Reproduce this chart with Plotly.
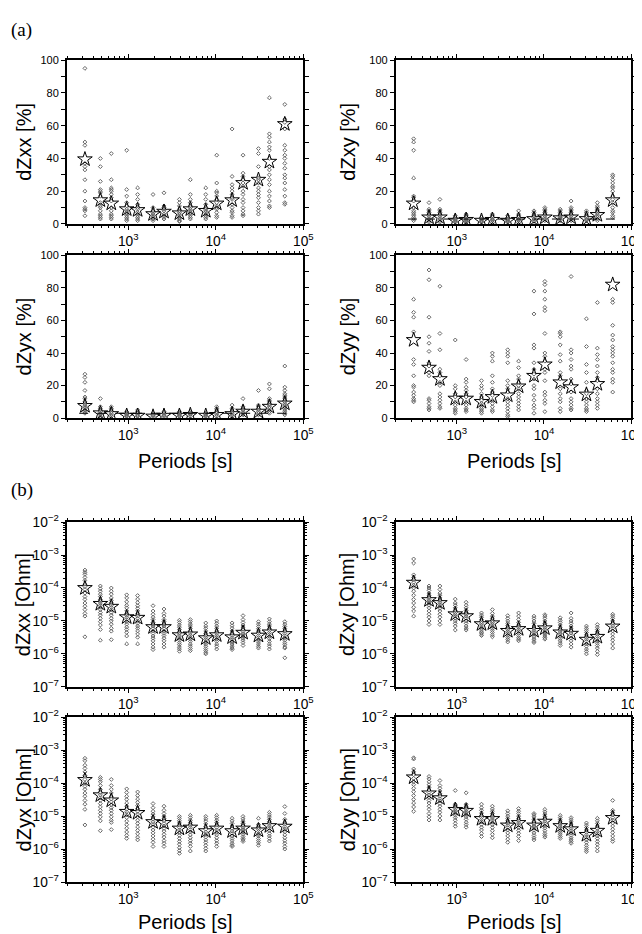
"""
Impedance error estimates vs period for all sites.

(a) relative errors [%] of the four impedance components
(b) absolute errors [Ohm] of the four impedance components

Small diamonds: individual sites; stars: average per period.
Dashed line in dZxy / dZyx (a): 3 % error floor.
"""

import numpy as np
import plotly.graph_objects as go
from plotly.subplots import make_subplots

# ── Data ─────────────────────────────────────────────────────────────────────
PERIODS = [320, 480, 640, 960, 1280, 1920, 2560, 3840, 5120, 7680,
           10240, 15360, 20480, 30720, 40960, 61440]

ERROR_FLOOR = 3.0
FLOOR_X = [275, 80000]

# (a) relative errors, %
zxx_pct = [
    [95, 50, 48, 37, 35, 33, 27, 20, 14, 10, 9, 8, 5],
    [40, 35, 26, 21, 20, 19, 17, 13, 11, 10, 8, 6, 5, 4, 3],
    [43, 27, 22, 21, 20, 18, 16, 14, 10, 8, 6, 5, 4, 3],
    [45, 21, 17, 13, 11, 9, 8, 7, 6, 5, 4, 3, 2],
    [22, 18, 15, 12, 10, 9, 7, 6, 5, 4, 3, 2],
    [18, 10, 8, 7, 6, 5, 4, 3, 2],
    [19, 11, 10, 9, 8, 6, 5, 4, 3],
    [15, 13, 11, 9, 8, 7, 6, 5, 4, 3, 2, 1.5],
    [27, 18, 15, 13, 11, 10, 9, 8, 7, 6, 5, 4, 3],
    [22, 18, 15, 12, 10, 9, 8, 7, 6, 5, 4, 3],
    [42, 25, 20, 19, 17, 15, 13, 11, 10, 9, 7, 5, 4],
    [58, 29, 24, 22, 20, 18, 16, 15, 12, 10, 8, 7, 5, 4],
    [42, 31, 29, 27, 25, 23, 20, 18, 15, 13, 10, 8, 6, 5],
    [46, 43, 35, 28, 27, 25, 22, 20, 18, 16, 13, 10, 8, 6],
    [77, 55, 53, 50, 47, 45, 40, 35, 33, 30, 27, 24, 20, 17, 14, 11, 10],
    [73, 64, 62, 58, 48, 45, 42, 40, 37, 34, 30, 28, 25, 21, 17, 13, 12],
]
zxx_pct_star = [39.5, 14.5, 12.5, 9, 8.5, 6, 7.5, 6.5, 9, 8, 12.5, 14.5, 25, 27, 38, 61]

zxy_pct = [
    [52, 50, 45, 28, 17, 16, 14, 10, 8, 7, 6, 5, 4, 3, 2],
    [13, 9, 8, 7, 6, 5, 4, 3, 2, 1],
    [15, 9, 8, 7, 6, 5, 4, 3, 2, 1],
    [5, 4, 3, 2.5, 2, 1.5, 1],
    [6, 5, 4, 3, 2.5, 2, 1.5, 1],
    [4, 3, 2.5, 2, 1.5, 1],
    [6, 5, 4, 3, 2.5, 2, 1],
    [5, 4, 3, 2.5, 2, 1.5, 1],
    [8, 6, 5, 4, 3, 2.5, 2, 1],
    [8, 7, 6, 5, 4, 3, 2, 1.5],
    [10, 9, 8, 7, 6, 5, 4, 3, 2],
    [9, 8, 7, 6, 5, 4, 3.5, 3, 2],
    [14, 10, 9, 8, 7, 6, 5, 4, 3, 2],
    [8, 7, 6, 5, 4, 3, 2.5, 2],
    [13, 11, 10, 9, 8, 7, 6, 5, 4, 3, 2],
    [30, 29, 27, 25, 23, 22, 20, 17, 15, 13, 10, 8, 7, 5, 4],
]
zxy_pct_star = [12.5, 4, 4, 2, 2.5, 2, 2.5, 2, 2.5, 3, 4, 3.5, 4, 3, 5.5, 14.5]

zyx_pct = [
    [27, 25, 22, 17, 13, 12, 10, 9, 8, 7, 6, 5, 4, 3],
    [12, 7, 6, 5, 4, 3, 2.5, 2, 1],
    [7, 6, 5, 4, 3, 2, 1],
    [4, 3, 2.5, 2, 1.5, 1],
    [5, 4, 3, 2, 1.5, 1],
    [3, 2, 1.5, 1],
    [4, 3, 2, 1.5, 1],
    [4, 3, 2.5, 2, 1.5, 1],
    [4, 3, 2.5, 2, 1],
    [3, 2.5, 2, 1.5, 1],
    [7, 6, 5, 4, 3, 2, 1],
    [8, 6, 5, 4, 3, 2, 1],
    [12, 7, 6, 5, 4, 3, 2],
    [17, 8, 7, 6, 5, 4, 3, 2],
    [21, 18, 12, 11, 10, 9, 8, 7, 6, 5, 4, 3],
    [32, 19, 17, 15, 14, 13, 12, 11, 10, 9, 8, 7, 6, 5, 4, 3, 2],
]
zyx_pct_star = [7.5, 3, 2.5, 1.5, 1.5, 1, 1.5, 1.5, 2, 1.5, 2, 2.5, 4, 4, 7, 9]

zyy_pct = [
    [73, 65, 62, 53, 36, 33, 26, 20, 19, 16, 14, 12, 11, 10],
    [91, 85, 62, 50, 46, 41, 34, 32, 28, 26, 12, 11, 9, 7, 6, 5],
    [81, 52, 42, 30, 28, 26, 22, 20, 15, 13, 11, 9, 7, 6],
    [48, 20, 18, 15, 13, 10, 8, 6, 5, 4, 3],
    [36, 24, 22, 19, 17, 15, 13, 10, 8, 6, 5, 4],
    [23, 20, 18, 15, 13, 11, 9, 8, 6, 5, 4, 3],
    [40, 38, 35, 26, 22, 18, 16, 14, 11, 9, 7, 5, 4],
    [42, 40, 38, 34, 23, 20, 18, 16, 12, 10, 8, 6, 4, 2, 1],
    [35, 31, 26, 24, 22, 20, 18, 15, 13, 11, 9, 7, 5],
    [78, 64, 45, 43, 34, 30, 27, 24, 20, 18, 14, 11, 8, 6, 3],
    [84, 82, 78, 73, 68, 66, 52, 40, 38, 35, 30, 28, 23, 16, 14, 11, 9, 4],
    [53, 52, 50, 45, 39, 35, 28, 26, 24, 18, 15, 12, 10, 6, 4],
    [87, 42, 40, 36, 32, 30, 24, 21, 16, 12, 10, 8, 6, 5],
    [61, 44, 33, 28, 22, 17, 15, 12, 10, 8, 6, 5, 4],
    [71, 43, 39, 36, 32, 28, 25, 23, 18, 15, 12, 10, 8, 6],
    [73, 71, 57, 51, 48, 44, 42, 40, 38, 34, 30, 28, 24, 22, 16],
]
zyy_pct_star = [48, 31, 24, 12, 12, 10, 13, 14, 19.5, 26, 33, 22, 19, 14.5, 21, 82]

# (b) absolute errors, Ohm
zxx_ohm = [
    [3.5e-4, 3e-4, 2.6e-4, 2.1e-4, 1.7e-4, 1.3e-4, 1.1e-4, 9e-5, 7e-5, 5.5e-5, 4.5e-5, 3.5e-5, 2.8e-5, 2.2e-5, 1.7e-5, 1.4e-5, 3.3e-6],
    [1.15e-4, 9.5e-5, 8e-5, 6.5e-5, 5.5e-5, 4.5e-5, 4e-5, 3.5e-5, 3e-5, 2.6e-5, 2.2e-5, 1.8e-5, 1.5e-5, 1.2e-5, 9.5e-6, 7.5e-6, 5.5e-6, 2.6e-6],
    [1e-4, 8e-5, 6.5e-5, 5e-5, 4.2e-5, 3.6e-5, 3e-5, 2.6e-5, 2.2e-5, 1.8e-5, 1.5e-5, 1.2e-5, 1e-5, 8e-6, 6e-6, 4.9e-6, 2.7e-6],
    [6.2e-5, 5e-5, 3.8e-5, 3e-5, 2.5e-5, 2e-5, 1.7e-5, 1.5e-5, 1.3e-5, 1.1e-5, 9.5e-6, 8e-6, 6.5e-6, 5.5e-6, 4.5e-6, 3.5e-6, 2e-6],
    [5.9e-5, 4.6e-5, 3.6e-5, 2.9e-5, 2.4e-5, 2e-5, 1.7e-5, 1.4e-5, 1.2e-5, 1e-5, 8.5e-6, 7e-6, 6e-6, 5e-6, 4e-6, 3.2e-6, 2e-6],
    [2.9e-5, 2e-5, 1.6e-5, 1.3e-5, 1.1e-5, 9e-6, 8e-6, 7e-6, 6e-6, 5e-6, 4.2e-6, 3.5e-6, 3e-6, 2.5e-6, 2e-6, 1.6e-6, 1.35e-6],
    [2.3e-5, 1.7e-5, 1.4e-5, 1.1e-5, 9.5e-6, 8e-6, 7e-6, 6e-6, 5e-6, 4.2e-6, 3.6e-6, 3e-6, 2.5e-6, 2e-6, 1.6e-6],
    [1.05e-5, 9e-6, 7.5e-6, 6.5e-6, 5.5e-6, 4.5e-6, 4e-6, 3.5e-6, 3e-6, 2.6e-6, 2.2e-6, 1.9e-6, 1.6e-6, 1.4e-6, 1.2e-6],
    [1.1e-5, 9.5e-6, 8e-6, 7e-6, 6e-6, 5e-6, 4.3e-6, 3.7e-6, 3.2e-6, 2.8e-6, 2.4e-6, 2e-6, 1.7e-6, 1.45e-6, 1.25e-6],
    [8.7e-6, 7e-6, 6e-6, 5e-6, 4.2e-6, 3.6e-6, 3.1e-6, 2.7e-6, 2.3e-6, 2e-6, 1.7e-6, 1.45e-6, 1.25e-6, 1.1e-6, 1e-6],
    [1e-5, 8.5e-6, 7e-6, 6e-6, 5e-6, 4.3e-6, 3.7e-6, 3.2e-6, 2.8e-6, 2.4e-6, 2e-6, 1.7e-6, 1.4e-6],
    [8.7e-6, 7.2e-6, 6e-6, 5e-6, 4.2e-6, 3.6e-6, 3.1e-6, 2.7e-6, 2.3e-6, 2e-6, 1.7e-6, 1.5e-6, 1.35e-6],
    [1.45e-5, 1.1e-5, 9e-6, 7.5e-6, 6.5e-6, 5.5e-6, 4.7e-6, 4e-6, 3.5e-6, 3e-6, 2.6e-6, 2.2e-6, 1.8e-6],
    [9.5e-6, 8e-6, 6.8e-6, 5.8e-6, 5e-6, 4.2e-6, 3.6e-6, 3.1e-6, 2.7e-6, 2.3e-6, 2e-6, 1.7e-6, 1.5e-6],
    [1.15e-5, 9.5e-6, 8e-6, 7e-6, 6e-6, 5.2e-6, 4.5e-6, 3.9e-6, 3.4e-6, 2.9e-6, 2.4e-6, 2e-6, 1.7e-6, 1.4e-6],
    [9.5e-6, 8e-6, 6.8e-6, 5.8e-6, 5e-6, 4.2e-6, 3.6e-6, 3.1e-6, 2.6e-6, 2.2e-6, 1.9e-6, 1.6e-6, 1.5e-6, 7.6e-7],
]
zxx_ohm_star = [1e-4, 3.3e-5, 2.7e-5, 1.3e-5, 1.25e-5, 6.5e-6, 6.5e-6, 3.7e-6,
                3.9e-6, 3e-6, 3.7e-6, 3.2e-6, 4.4e-6, 3.6e-6, 4.5e-6, 4e-6]

zxy_ohm = [
    [7.6e-4, 5.7e-4, 2.5e-4, 2.1e-4, 1.8e-4, 1.5e-4, 1.2e-4, 1e-4, 8e-5, 6e-5, 4.5e-5, 3.5e-5, 2.6e-5, 2e-5, 1.4e-5],
    [1.15e-4, 1e-4, 8.5e-5, 7e-5, 6e-5, 5.2e-5, 4.5e-5, 4e-5, 3.5e-5, 3e-5, 2.5e-5, 2e-5, 1.6e-5, 1.3e-5, 1e-5, 7.8e-6],
    [1.15e-4, 9e-5, 7e-5, 6e-5, 5e-5, 4.3e-5, 3.7e-5, 3.2e-5, 2.8e-5, 2.4e-5, 2e-5, 1.6e-5, 1.3e-5, 1e-5, 7.8e-6],
    [4.6e-5, 3.5e-5, 3e-5, 2.5e-5, 2.1e-5, 1.8e-5, 1.6e-5, 1.4e-5, 1.2e-5, 1e-5, 8.5e-6, 7e-6, 5.3e-6],
    [3.7e-5, 3e-5, 2.5e-5, 2.1e-5, 1.8e-5, 1.6e-5, 1.4e-5, 1.2e-5, 1e-5, 8.5e-6, 7e-6, 6e-6, 5.3e-6],
    [1.75e-5, 1.5e-5, 1.3e-5, 1.1e-5, 9.5e-6, 8.5e-6, 7.5e-6, 6.5e-6, 5.7e-6, 5e-6, 4.4e-6, 4e-6, 3.6e-6],
    [2.2e-5, 1.7e-5, 1.4e-5, 1.2e-5, 1e-5, 9e-6, 8e-6, 7e-6, 6e-6, 5.2e-6, 4.5e-6, 3.8e-6, 3.3e-6],
    [1.45e-5, 1.2e-5, 1e-5, 8.5e-6, 7.2e-6, 6.2e-6, 5.4e-6, 4.7e-6, 4.1e-6, 3.6e-6, 3.1e-6, 2.7e-6, 2.3e-6],
    [1.75e-5, 1.4e-5, 1.1e-5, 9e-6, 7.5e-6, 6.5e-6, 5.6e-6, 4.9e-6, 4.2e-6, 3.6e-6, 3.1e-6, 2.8e-6, 2.5e-6],
    [1.4e-5, 1.2e-5, 1e-5, 8.5e-6, 7e-6, 6e-6, 5.2e-6, 4.5e-6, 3.9e-6, 3.3e-6, 2.8e-6, 2.4e-6, 2.2e-6],
    [1.55e-5, 1.4e-5, 1.2e-5, 1e-5, 8.5e-6, 7.2e-6, 6.2e-6, 5.4e-6, 4.6e-6, 4e-6, 3.5e-6, 3.1e-6, 2.8e-6],
    [1.25e-5, 1.05e-5, 9e-6, 7.5e-6, 6.3e-6, 5.4e-6, 4.6e-6, 4e-6, 3.4e-6, 2.9e-6, 2.5e-6, 2.1e-6, 1.8e-6],
    [1.75e-5, 1.2e-5, 1e-5, 8.5e-6, 7e-6, 6e-6, 5e-6, 4.3e-6, 3.6e-6, 3e-6, 2.5e-6, 2e-6, 1.6e-6],
    [7e-6, 6e-6, 5.2e-6, 4.5e-6, 3.8e-6, 3.2e-6, 2.8e-6, 2.4e-6, 2e-6, 1.7e-6, 1.4e-6, 1.2e-6, 1e-6],
    [7.8e-6, 6.5e-6, 5.5e-6, 4.7e-6, 4e-6, 3.4e-6, 2.9e-6, 2.5e-6, 2.1e-6, 1.8e-6, 1.5e-6, 1.2e-6, 9.5e-7],
    [1.6e-5, 1.4e-5, 1.2e-5, 1e-5, 8.5e-6, 7e-6, 6e-6, 5e-6, 4e-6, 3.2e-6, 2.6e-6, 2e-6, 1.5e-6],
]
zxy_ohm_star = [1.45e-4, 4.3e-5, 3.5e-5, 1.6e-5, 1.4e-5, 8e-6, 8.5e-6, 5e-6,
                5.7e-6, 5e-6, 6e-6, 4.5e-6, 4.1e-6, 2.7e-6, 3.3e-6, 6.8e-6]

zyx_ohm = [
    [5.7e-4, 4.8e-4, 3.5e-4, 2.8e-4, 2.2e-4, 1.7e-4, 1.3e-4, 1e-4, 8e-5, 6.5e-5, 5e-5, 4e-5, 3e-5, 2.3e-5, 1.6e-5, 5.4e-6],
    [1.5e-4, 1.3e-4, 1.1e-4, 8.5e-5, 6.5e-5, 5.2e-5, 4.4e-5, 3.6e-5, 3e-5, 2.4e-5, 1.9e-5, 1.5e-5, 1.2e-5, 9.5e-6, 7.2e-6, 3.6e-6],
    [1.3e-4, 8.5e-5, 6.5e-5, 5e-5, 4e-5, 3.3e-5, 2.7e-5, 2.2e-5, 1.8e-5, 1.5e-5, 1.2e-5, 9.5e-6, 7.5e-6, 6.4e-6, 3.9e-6],
    [6.7e-5, 5.2e-5, 4e-5, 3.2e-5, 2.5e-5, 2e-5, 1.6e-5, 1.35e-5, 1.1e-5, 9e-6, 7e-6, 5.5e-6, 4.3e-6, 3.3e-6, 2.6e-6, 2.1e-6],
    [5.4e-5, 4.2e-5, 3.3e-5, 2.6e-5, 2.1e-5, 1.7e-5, 1.4e-5, 1.15e-5, 9.5e-6, 7.5e-6, 6e-6, 4.7e-6, 3.7e-6, 2.9e-6, 2.3e-6, 1.9e-6],
    [2.4e-5, 1.8e-5, 1.4e-5, 1.15e-5, 9.5e-6, 8e-6, 6.7e-6, 5.6e-6, 4.6e-6, 3.8e-6, 3.1e-6, 2.5e-6, 2e-6, 1.6e-6, 1.2e-6],
    [2e-5, 1.5e-5, 1.2e-5, 1e-5, 8.5e-6, 7.2e-6, 6e-6, 5e-6, 4.2e-6, 3.5e-6, 2.8e-6, 2.3e-6, 1.8e-6, 1.5e-6, 1.2e-6],
    [9.8e-6, 8.5e-6, 7.2e-6, 6.2e-6, 5.3e-6, 4.5e-6, 3.8e-6, 3.2e-6, 2.6e-6, 2.1e-6, 1.7e-6, 1.4e-6, 1.1e-6, 9e-7, 7.4e-7],
    [1.06e-5, 9e-6, 7.5e-6, 6.4e-6, 5.4e-6, 4.6e-6, 3.9e-6, 3.3e-6, 2.7e-6, 2.2e-6, 1.8e-6, 1.5e-6, 1.2e-6, 8.7e-7],
    [9.8e-6, 8.3e-6, 7e-6, 5.8e-6, 4.8e-6, 4e-6, 3.3e-6, 2.8e-6, 2.3e-6, 1.9e-6, 1.6e-6, 1.3e-6, 1.05e-6, 8.7e-7],
    [1.06e-5, 9e-6, 7.5e-6, 6.3e-6, 5.3e-6, 4.5e-6, 3.8e-6, 3.2e-6, 2.7e-6, 2.2e-6, 1.8e-6, 1.5e-6, 1.2e-6],
    [8.6e-6, 7.2e-6, 6e-6, 5e-6, 4.2e-6, 3.5e-6, 3e-6, 2.5e-6, 2.1e-6, 1.8e-6, 1.5e-6, 1.3e-6, 1.2e-6],
    [9.8e-6, 8.3e-6, 7e-6, 6e-6, 5.1e-6, 4.4e-6, 3.8e-6, 3.3e-6, 2.8e-6, 2.4e-6, 2.1e-6, 1.9e-6, 1.7e-6],
    [8.6e-6, 5.6e-6, 5e-6, 4.4e-6, 3.9e-6, 3.4e-6, 2.9e-6, 2.5e-6, 2.1e-6, 1.8e-6, 1.55e-6, 1.3e-6],
    [1.3e-5, 1.1e-5, 9.3e-6, 8e-6, 6.8e-6, 5.8e-6, 5e-6, 4.3e-6, 3.6e-6, 3e-6, 2.5e-6, 2.1e-6, 1.75e-6],
    [1.95e-5, 1.2e-5, 8e-6, 6.5e-6, 5.6e-6, 4.8e-6, 4e-6, 3.3e-6, 2.7e-6, 2.2e-6, 1.8e-6, 1.5e-6, 1.2e-6, 1e-6],
]
zyx_ohm_star = [1.25e-4, 4.3e-5, 3e-5, 1.35e-5, 1.25e-5, 6.6e-6, 6.2e-6, 4.2e-6,
                4.5e-6, 3.5e-6, 4.2e-6, 3.5e-6, 4.2e-6, 3.7e-6, 5e-6, 4.8e-6]

zyy_ohm = [
    [5.9e-4, 5.4e-4, 2.7e-4, 2.2e-4, 1.8e-4, 1.4e-4, 1.1e-4, 9e-5, 7e-5, 5.5e-5, 4.2e-5, 3.2e-5, 2.5e-5, 1.9e-5, 1.4e-5],
    [1.6e-4, 1.35e-4, 1.1e-4, 9e-5, 7.5e-5, 6.2e-5, 5.2e-5, 4.4e-5, 3.7e-5, 3e-5, 2.5e-5, 2e-5, 1.6e-5, 1.2e-5, 9.5e-6, 7.6e-6],
    [1.2e-4, 8.5e-5, 7e-5, 5.8e-5, 4.8e-5, 4e-5, 3.4e-5, 2.9e-5, 2.4e-5, 2e-5, 1.6e-5, 1.3e-5, 1e-5, 7.6e-6],
    [6e-5, 2.3e-5, 2.1e-5, 1.9e-5, 1.7e-5, 1.5e-5, 1.35e-5, 1.2e-5, 1.05e-5, 9e-6, 7.5e-6, 6e-6, 4.9e-6],
    [5.1e-5, 2.3e-5, 2e-5, 1.8e-5, 1.6e-5, 1.4e-5, 1.25e-5, 1.1e-5, 9.5e-6, 8e-6, 6.5e-6, 5.5e-6, 4.6e-6],
    [2.3e-5, 1.8e-5, 1.5e-5, 1.25e-5, 1.05e-5, 9e-6, 7.8e-6, 6.7e-6, 5.6e-6, 4.6e-6, 3.8e-6, 3e-6, 2.4e-6],
    [2e-5, 1.65e-5, 1.4e-5, 1.2e-5, 1e-5, 8.8e-6, 7.6e-6, 6.5e-6, 5.5e-6, 4.5e-6, 3.6e-6, 2.8e-6, 2.2e-6],
    [1.45e-5, 1.2e-5, 1e-5, 8.5e-6, 7.2e-6, 6.2e-6, 5.3e-6, 4.5e-6, 3.8e-6, 3.1e-6, 2.5e-6, 2e-6, 1.6e-6],
    [1.7e-5, 1.4e-5, 1.2e-5, 1e-5, 8.5e-6, 7.2e-6, 6.2e-6, 5.3e-6, 4.5e-6, 3.7e-6, 3e-6, 2.4e-6, 1.8e-6],
    [1.2e-5, 1.1e-5, 9.5e-6, 8e-6, 6.8e-6, 5.8e-6, 5e-6, 4.3e-6, 3.7e-6, 3.1e-6, 2.6e-6, 2.2e-6, 1.9e-6],
    [1.6e-5, 1.35e-5, 1.15e-5, 9.7e-6, 8.2e-6, 7e-6, 6e-6, 5.1e-6, 4.3e-6, 3.6e-6, 3e-6, 2.6e-6, 2.3e-6],
    [1.05e-5, 9e-6, 7.8e-6, 6.7e-6, 5.8e-6, 5e-6, 4.3e-6, 3.7e-6, 3.2e-6, 2.8e-6, 2.4e-6, 2.1e-6],
    [9e-6, 7.8e-6, 6.7e-6, 5.7e-6, 4.9e-6, 4.2e-6, 3.6e-6, 3.1e-6, 2.6e-6, 2.2e-6, 1.9e-6, 1.7e-6, 1.5e-6],
    [6.2e-6, 5.3e-6, 4.5e-6, 3.8e-6, 3.2e-6, 2.7e-6, 2.3e-6, 1.9e-6, 1.6e-6, 1.3e-6, 1.1e-6, 9.5e-7, 8.3e-7],
    [8.6e-6, 7.2e-6, 6e-6, 5e-6, 4.2e-6, 3.5e-6, 3e-6, 2.5e-6, 2.1e-6, 1.7e-6, 1.4e-6, 1.1e-6, 8.7e-7],
    [3e-5, 1.5e-5, 1.3e-5, 1.1e-5, 9e-6, 7.5e-6, 6.2e-6, 5e-6, 4e-6, 3.2e-6, 2.5e-6, 2e-6, 1.7e-6],
]
zyy_ohm_star = [1.5e-4, 4.9e-5, 3.5e-5, 1.55e-5, 1.45e-5, 8.2e-6, 8.2e-6, 5.2e-6,
                6.2e-6, 5.2e-6, 6.8e-6, 5e-6, 4e-6, 2.7e-6, 3.6e-6, 8.8e-6]

# ── Layout (pixels of the 642 x 934 page) ────────────────────────────────────
W, H = 642, 934
COL_X = [(60, 300), (394, 633)]
ROW_Y = [(43, 210), (242, 408), (514, 682), (713, 881)]

# row, col, y title, points, stars, log y, error floor
panels = [
    (1, 1, 'dZxx [%]', zxx_pct, zxx_pct_star, False, False),
    (1, 2, 'dZxy [%]', zxy_pct, zxy_pct_star, False, True),
    (2, 1, 'dZyx [%]', zyx_pct, zyx_pct_star, False, True),
    (2, 2, 'dZyy [%]', zyy_pct, zyy_pct_star, False, False),
    (3, 1, 'dZxx [Ohm]', zxx_ohm, zxx_ohm_star, True, False),
    (3, 2, 'dZxy [Ohm]', zxy_ohm, zxy_ohm_star, True, False),
    (4, 1, 'dZyx [Ohm]', zyx_ohm, zyx_ohm_star, True, False),
    (4, 2, 'dZyy [Ohm]', zyy_ohm, zyy_ohm_star, True, False),
]

SANS = 'Liberation Sans'
fig = make_subplots(rows=4, cols=2)

annotations = []
for row, col, ytitle, pts, stars, logy, floor in panels:
    xs = [p for p, vals in zip(PERIODS, pts) for _ in vals]
    ys = [v for vals in pts for v in vals]
    fig.add_trace(go.Scatter(
        x=xs, y=ys, mode='markers',
        marker=dict(symbol='diamond-open', size=3, color='#666666',
                    line=dict(width=1, color='#666666')),
        showlegend=False, hoverinfo='skip',
    ), row=row, col=col)
    if floor:
        fig.add_trace(go.Scatter(
            x=FLOOR_X, y=[ERROR_FLOOR, ERROR_FLOOR], mode='lines',
            line=dict(color='black', width=1, dash='dash'),
            showlegend=False, hoverinfo='skip',
        ), row=row, col=col)
    fig.add_trace(go.Scatter(
        x=PERIODS, y=stars, mode='markers',
        marker=dict(symbol='star-open', size=11, color='black',
                    line=dict(width=1, color='black')),
        showlegend=False, hoverinfo='skip',
    ), row=row, col=col)

    x0, x1 = COL_X[col - 1]
    y0, y1 = ROW_Y[row - 1]
    common = dict(showline=True, linewidth=2, linecolor='black', mirror='ticks',
                  ticks='outside', ticklen=4, tickwidth=1, tickcolor='black',
                  showgrid=False, zeroline=False, ticklabeloverflow='allow',
                  tickfont=dict(family=SANS, size=11, color='black'))
    fig.update_xaxes(type='log', range=[np.log10(200), 5], dtick=1,
                     exponentformat='power',
                     minor=dict(ticks='outside', ticklen=2, dtick='D1',
                                tickcolor='black', showgrid=False),
                     domain=[x0 / W, x1 / W], row=row, col=col, **common)
    if logy:
        fig.update_yaxes(type='log', range=[-7, -2], dtick=1,
                         exponentformat='power',
                         minor=dict(ticks='outside', ticklen=2, dtick='D1',
                                    tickcolor='black', showgrid=False),
                         domain=[1 - y1 / H, 1 - y0 / H], row=row, col=col, **common)
    else:
        fig.update_yaxes(range=[0, 100], dtick=20,
                         minor=dict(ticks='outside', ticklen=4, dtick=10,
                                    tickcolor='black', showgrid=False),
                         domain=[1 - y1 / H, 1 - y0 / H], row=row, col=col, **common)

    annotations.append(dict(
        text=ytitle, x=(x0 - (44 if col == 1 else 49)) / W, y=1 - (y0 + y1) / 2 / H,
        xref='paper', yref='paper', xanchor='center', yanchor='middle',
        textangle=-90, showarrow=False,
        font=dict(family=SANS, size=20, color='black'),
    ))
    if row in (2, 4):
        annotations.append(dict(
            text='Periods [s]', x=(x0 + x1) / 2 / W,
            y=1 - (452 if row == 2 else 922) / H,
            xref='paper', yref='paper', xanchor='center', yanchor='middle',
            showarrow=False, font=dict(family=SANS, size=20, color='black'),
        ))

for label, ypx in [('(a)', 12), ('(b)', 481)]:
    annotations.append(dict(
        text=label, x=1 / W, y=1 - ypx / H, xref='paper', yref='paper',
        xanchor='left', yanchor='middle', showarrow=False,
        font=dict(family='Liberation Serif', size=19, color='black'),
    ))

fig.update_layout(
    width=W, height=H,
    margin=dict(l=0, r=0, t=0, b=0),
    plot_bgcolor='white', paper_bgcolor='white',
    annotations=annotations,
)

fig.write_html("out.html")
